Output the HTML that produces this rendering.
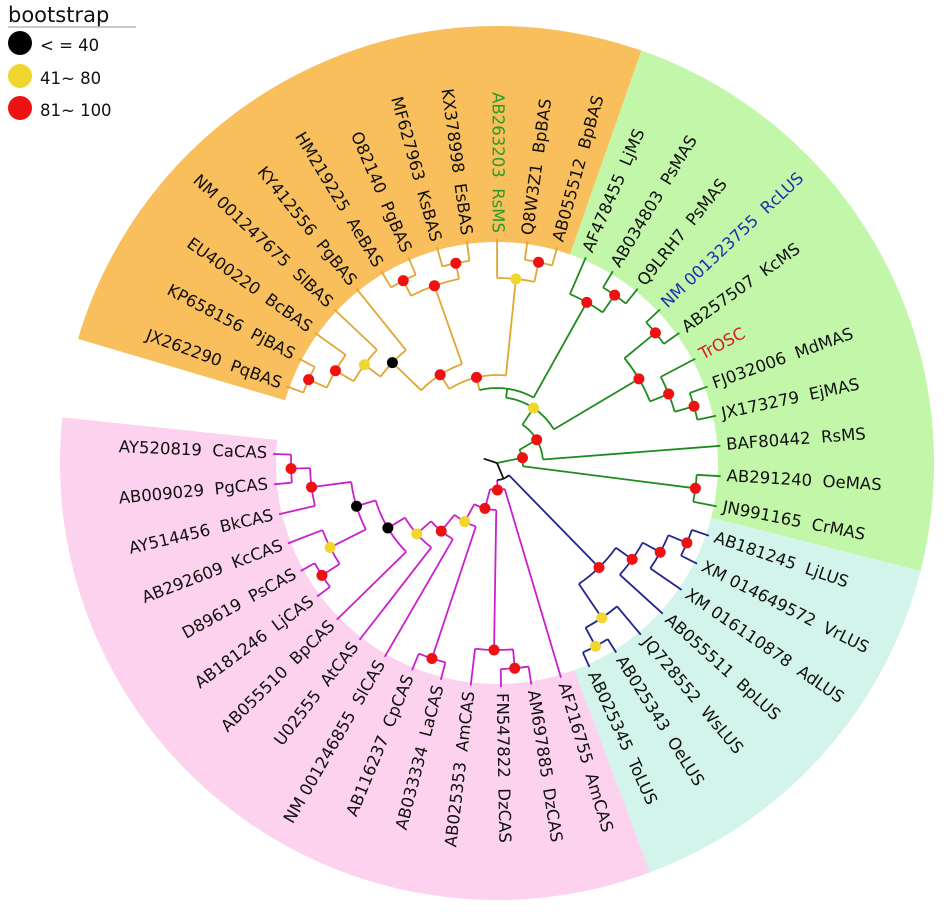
<!DOCTYPE html>
<html><head><meta charset="utf-8">
<style>
html,body{margin:0;padding:0;background:#fff;}
svg{display:block;font-family:"DejaVu Sans","Liberation Sans",sans-serif;}
</style></head>
<body>
<svg id="chart" width="946" height="923" viewBox="0 0 946 923" xmlns="http://www.w3.org/2000/svg">
  <g id="sectors"></g>
  <g id="branches"></g>
  <g id="dots"></g>
  <g id="labels"></g>
  <g id="legend">
    <text x="8" y="22" font-size="21" fill="#111">bootstrap</text>
    <line x1="8" y1="27" x2="136" y2="27" stroke="#b0b8c0" stroke-width="1.5"/>
    <circle cx="20" cy="43" r="12" fill="#000"/>
    <text x="40" y="51" font-size="16.5" fill="#111">&lt; = 40</text>
    <circle cx="20" cy="76" r="12" fill="#f2d630"/>
    <text x="40" y="84" font-size="16.5" fill="#111">41~ 80</text>
    <circle cx="20" cy="108" r="12" fill="#ee1111"/>
    <text x="40" y="116" font-size="16.5" fill="#111">81~ 100</text>
  </g>
</svg>
<script>
const leafNames = ["JX262290  PqBAS","KP658156  PjBAS","EU400220  BcBAS","NM 001247675  SlBAS","KY412556  PgBAS","HM219225  AeBAS","O82140  PgBAS","MF627963  KsBAS","KX378998  EsBAS","AB263203  RsMS","Q8W3Z1  BpBAS","AB055512  BpBAS",
"AF478455  LjMS","AB034803  PsMAS","Q9LRH7  PsMAS","NM 001323755  RcLUS","AB257507  KcMS","TrOSC","FJ032006  MdMAS","JX173279  EjMAS","BAF80442  RsMS","AB291240  OeMAS","JN991165  CrMAS",
"AB181245  LjLUS","XM 014649572  VrLUS","XM 016110878  AdLUS","AB055511  BpLUS","JQ728552  WsLUS","AB025343  OeLUS","AB025345  ToLUS",
"AF216755  AmCAS","AM697885  DzCAS","FN547822  DzCAS","AB025353  AmCAS","AB033334  LaCAS","AB116237  CpCAS","NM 001246855  SlCAS","U02555  AtCAS","AB055510  BpCAS","AB181246  LjCAS","D89619  PsCAS","AB292609  KcCAS","AY514456  BkCAS","AB009029  PgCAS","AY520819  CaCAS"];
const labelColorIdx = [9,15,17];
const labelColorVal = ["#2a9a2a","#1f2fb0","#d42020"];
const sectorNames = ["bas-sector","mas-sector","lus-sector","cas-sector"];
const sectorStart = [-163.5,-70.7,14.3,69.5];
const sectorEnd = [-70.7,14.3,69.5,186];
const sectorFill = ["#f8bf5c","#c2f6a8","#d2f4ea","#fcd2ef"];

const CX=497, CY=463, RT=224, RIN=221, ROUT=437, A0=-160, DA=7.78;
const NS="http://www.w3.org/2000/svg";
const O="#e2a634", G="#1e8c1e", B="#24248e", P="#cc1fcc", K="#111";
function N(r,b,col,...c){return {r:r,b:b,col:col,c:c};}
const tree = N(0,'',K,
  N(26,'r',G,
    N(46,'r',G,
      N(66,'y',G,
        N(75,'',G,
          N(88,'r',O,
            N(105,'r',O,
              N(145,'k',O, N(165,'y',O, N(186,'r',O, N(206,'r',O,0,1),2),3),4),
              N(188,'r',O, N(205,'r',O,5,6), N(204,'r',O,7,8))),
            N(185,'y',O, 9, N(205,'r',O,10,11))),
          N(184,'r',G, 12, N(205,'r',G,13,14))),
        N(165,'r',G, N(205,'r',G,15,16), N(185,'r',G,17, N(205,'r',G,18,19)))),
      20),
    N(200,'r',G,21,22)),
  N(17,'',K,
    N(146,'r',B, N(166,'r',B, N(186,'r',B, N(206,'r',B,23,24),25),26), N(187,'y',B,27,N(208,'y',B,28,29))),
    N(27,'r',P, N(47,'r',P, N(67,'y',P, N(88,'r',P, N(107,'y',P, N(127,'k',P, N(147,'k',P, N(187,'r',P, N(206,'r',P,43,44),42), N(187,'y',P,41,N(208,'r',P,39,40))),38),37),36), N(206,'r',P,34,35)), N(187,'r',P, N(206,'r',P,31,32),33)), 30)));

function ang(k){return A0+k*DA;}
function pt(r,a){const t=a*Math.PI/180;return [CX+r*Math.cos(t),CY+r*Math.sin(t)];}
function mk(tag,attrs,parent){const e=document.createElementNS(NS,tag);for(const k in attrs)e.setAttribute(k,attrs[k]);parent.appendChild(e);return e;}

const gS=document.getElementById('sectors'), gB=document.getElementById('branches'), gD=document.getElementById('dots'), gL=document.getElementById('labels');

for(let i=0;i<sectorStart.length;i++){
  const a1=sectorStart[i], a2=sectorEnd[i];
  const p1=pt(ROUT,a1), p2=pt(ROUT,a2), p3=pt(RIN,a2), p4=pt(RIN,a1);
  const lg=(a2-a1)>180?1:0;
  const d=`M${p1[0]},${p1[1]} A${ROUT},${ROUT} 0 ${lg} 1 ${p2[0]},${p2[1]} L${p3[0]},${p3[1]} A${RIN},${RIN} 0 ${lg} 0 ${p4[0]},${p4[1]} Z`;
  const e=mk('path',{d:d,fill:sectorFill[i]},gS);
  
  
}

const dotCol={r:"#ee1111",y:"#f2d630",k:"#000"};
function draw(node,parentR,parentCol){
  if(typeof node==='number'){
    const a=ang(node);
    const p1=pt(parentR,a), p2=pt(RT,a);
    const e=mk('line',{x1:p1[0],y1:p1[1],x2:p2[0],y2:p2[1],stroke:parentCol,'stroke-width':1.8},gB);
    
    
    return a;
  }
  const as=node.c.map(ch=>draw(ch,node.r,node.col));
  const mn=Math.min(...as), mx=Math.max(...as);
  const a=(mn+mx)/2;
  if(node.r>0){
    const q1=pt(node.r,mn), q2=pt(node.r,mx);
    const arc=mk('path',{d:`M${q1[0]},${q1[1]} A${node.r},${node.r} 0 ${(mx-mn)>180?1:0} 1 ${q2[0]},${q2[1]}`,fill:'none',stroke:node.col,'stroke-width':1.8},gB);
    
    
    if(parentR!==null){
      const p1=pt(parentR,a), p2=pt(node.r,a);
      const ln=mk('line',{x1:p1[0],y1:p1[1],x2:p2[0],y2:p2[1],stroke:node.col,'stroke-width':1.8},gB);
      
      
    }
    if(node.b){
      const p=pt(node.r,a);
      const d=mk('circle',{cx:p[0],cy:p[1],r:5.5,fill:dotCol[node.b]},gD);
      
      
    }
  } else {
    const p=pt(14,a+170);
    const st=mk('line',{x1:CX,y1:CY,x2:p[0],y2:p[1],stroke:'#111','stroke-width':1.8},gB);
    
    
  }
  return a;
}
draw(tree,null,K);

for(let k=0;k<leafNames.length;k++){
  let a=ang(k); if(a>180)a-=360;
  const p=pt(230,a);
  const right=(a>-89.5 && a<89.5);
  const rot=right?a:a+180;
  const ci=labelColorIdx.indexOf(k);
  const t=mk('text',{transform:`translate(${p[0].toFixed(1)},${p[1].toFixed(1)}) rotate(${rot.toFixed(2)})`,'text-anchor':right?'start':'end','dominant-baseline':'middle','font-size':16.5,fill:ci>=0?labelColorVal[ci]:'#111','xml:space':'preserve'},gL);
  t.setAttribute('style','white-space:pre');
  t.textContent=leafNames[k];
  
  
}
</script>
</body></html>
